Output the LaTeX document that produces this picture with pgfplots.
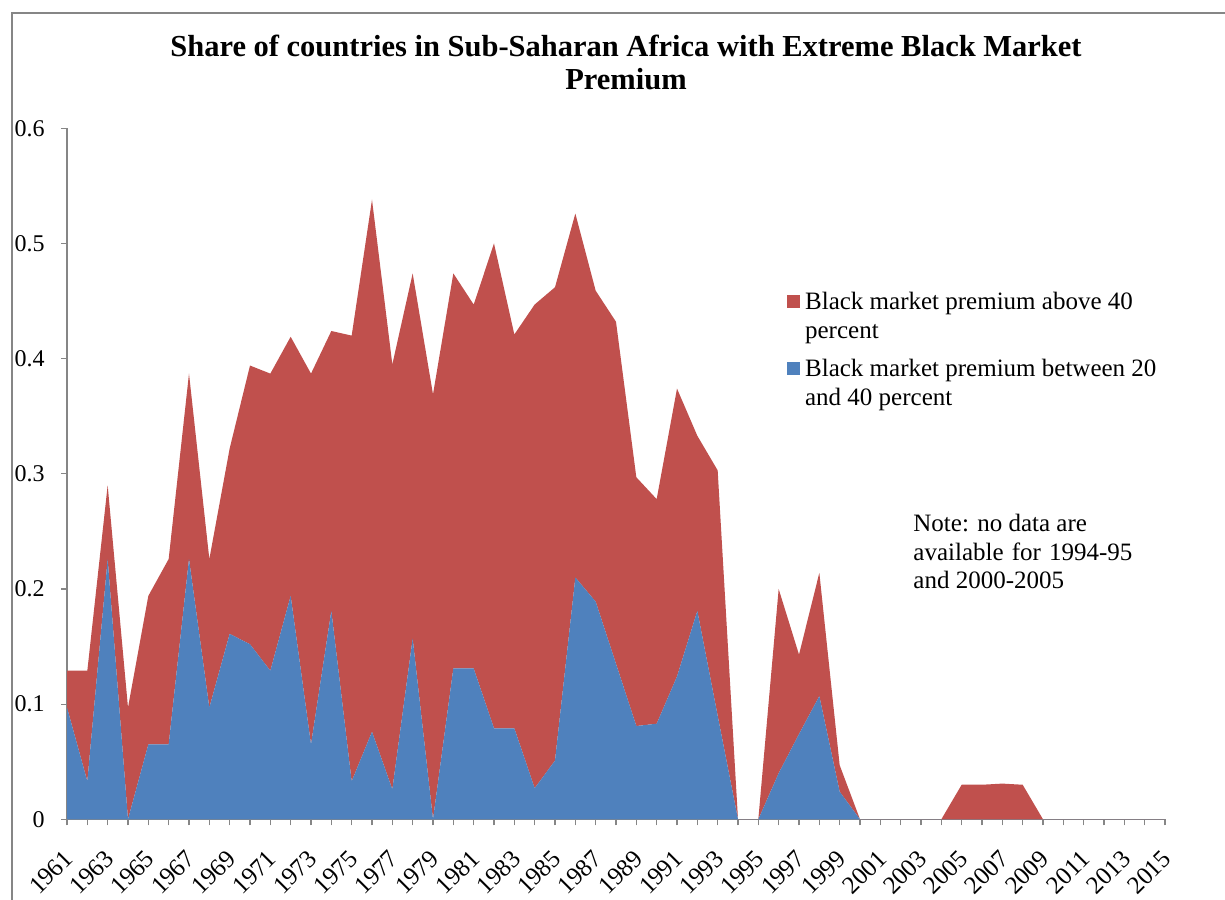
\documentclass[border=0pt]{standalone}
\usepackage{fontspec}
\setmainfont{Liberation Serif}
\usepackage{graphicx}
\usepackage{pgfplots}
\pgfplotsset{compat=1.18}
\usepackage{pgfplotstable}
\definecolor{xlred}{HTML}{C0504D}
\definecolor{xlblue}{HTML}{4F81BD}
\definecolor{xlgray}{HTML}{868686}

\pgfplotstableread{
year blue red
1961 0.097 0.032
1962 0.033 0.096
1963 0.226 0.064
1964 0.000 0.097
1965 0.065 0.129
1966 0.065 0.161
1967 0.226 0.161
1968 0.097 0.129
1969 0.161 0.161
1970 0.152 0.242
1971 0.129 0.258
1972 0.194 0.225
1973 0.065 0.322
1974 0.181 0.243
1975 0.033 0.387
1976 0.076 0.462
1977 0.026 0.369
1978 0.157 0.317
1979 0.000 0.369
1980 0.131 0.343
1981 0.131 0.316
1982 0.079 0.421
1983 0.079 0.342
1984 0.027 0.420
1985 0.051 0.411
1986 0.210 0.316
1987 0.189 0.270
1988 0.135 0.297
1989 0.081 0.216
1990 0.083 0.195
1991 0.124 0.250
1992 0.181 0.152
1993 0.090 0.213
1994 0.000 0.000
1995 0.000 0.000
1996 0.040 0.160
1997 0.074 0.069
1998 0.107 0.107
1999 0.024 0.023
2000 0.000 0.000
2001 0.000 0.000
2002 0.000 0.000
2003 0.000 0.000
2004 0.000 0.000
2005 0.000 0.030
2006 0.000 0.030
2007 0.000 0.031
2008 0.000 0.030
2009 0.000 0.000
2010 0.000 0.000
2011 0.000 0.000
2012 0.000 0.000
2013 0.000 0.000
2014 0.000 0.000
2015 0.000 0.000
}\bmpdata

\begin{document}
\begin{tikzpicture}
\path[use as bounding box] (0,0) rectangle (612.5pt,449.5pt);
\draw[xlgray, line width=0.9pt] (6pt,-1pt) -- (6pt,443pt) -- (614pt,443pt);
\node[anchor=north, inner sep=0pt, align=center,
      font=\fontsize{15.25}{16.5}\selectfont\bfseries] at (313pt,432pt)
  {Share of countries in Sub-Saharan Africa with Extreme Black Market\\Premium};
\begin{axis}[
  at={(33.5pt,39.85pt)}, anchor=south west,
  scale only axis, width=549pt, height=345.5pt,
  xmin=1961, xmax=2015, ymin=0, ymax=0.6,
  stack plots=y,
  axis x line*=bottom, axis y line*=left,
  axis line style={xlgray, line width=0.6pt, -},
  xtick={1961,1963,...,2015},
  minor xtick={1962,1964,...,2014},
  ytick={0,0.1,0.2,0.3,0.4,0.5,0.6},
  tick align=outside,
  major tick length=3pt, minor tick length=3pt,
  tick style={xlgray, line width=0.6pt},
  minor tick style={xlgray, line width=0.6pt},
  /pgf/number format/1000 sep={},
  /pgf/number format/assume math mode=true,
  yticklabel style={font=\fontsize{12}{14}\selectfont, xshift=-8pt, anchor=east, inner sep=0pt},
  xticklabel style={font=\fontsize{12.5}{14}\selectfont, yshift=-14.5pt, xshift=1pt, rotate=45, anchor=east, inner sep=0pt},
  legend style={at={(0.6555,0.769)}, anchor=north west, draw=none, fill=none,
    inner sep=0pt, row sep=4.7pt, column sep=0.5pt,
    font=\fontsize{12.5}{14.5}\selectfont,
    cells={align=left, inner sep=2pt}},
  legend cell align=left,
  reverse legend,
  legend image code/.code={\fill[#1] (0pt,4.5pt) rectangle (6.5pt,11pt);},
]
\addplot[fill=xlblue, draw=none] table[x=year, y=blue] {\bmpdata} \closedcycle;
\addlegendentry{Black market premium between 20\\and 40 percent}
\addplot[fill=xlred, draw=none] table[x=year, y=red] {\bmpdata} \closedcycle;
\addlegendentry{Black market premium above 40\\percent}
\end{axis}
\node[anchor=north west, inner sep=0pt, align=left,
      font=\fontsize{12.5}{14.25}\selectfont] at (456.5pt,192.5pt)
  {Note: no data are\\\makebox[109.5pt][s]{available for 1994-95}\\and 2000-2005};
\end{tikzpicture}
\end{document}
